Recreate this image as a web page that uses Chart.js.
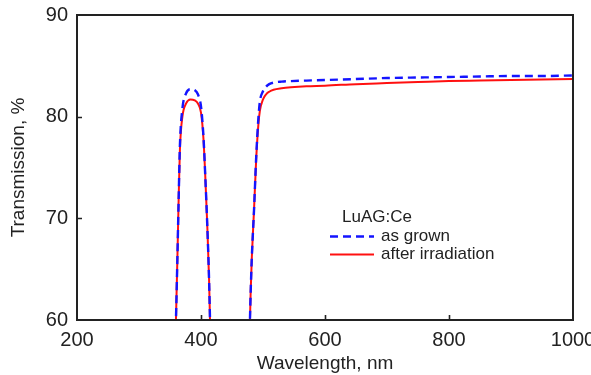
<!DOCTYPE html>
<html>
<head>
<meta charset="utf-8">
<script src="https://cdn.jsdelivr.net/npm/chart.js@4/dist/chart.umd.min.js"></script>
<style>
  html, body { margin: 0; padding: 0; background: #fff; }
  #wrap { width: 591px; height: 375px; position: relative; }
</style>
</head>
<body>
<div id="wrap"><canvas id="c" width="591" height="375"></canvas></div>
<script>
// Wavelength grid (nm); null values break the curve between the two windows
const wavelength = [357, 360, 362, 364, 366, 370, 376, 383, 390, 395, 400, 404, 407, 410, 413, 416,
  445,
  477, 480, 482, 485.5, 489, 492.5, 495, 500, 505, 510, 517, 530, 545, 570, 600, 650, 700, 750, 800, 850, 900, 950, 1000];

// Transmission, % — as grown crystal
const asGrown = [54, 61, 66.3, 72, 77.2, 80.8, 82.3, 82.7, 82.6, 82.2, 81.0, 78.0, 74.0, 69.5, 64.0, 56,
  null,
  55, 62.5, 66.2, 70.8, 76.0, 79.8, 81.5, 82.5, 82.95, 83.2, 83.35, 83.45, 83.5, 83.55, 83.6, 83.7, 83.8, 83.85, 83.9, 83.95, 84.0, 84.0, 84.05];

// Transmission, % — after irradiation
const afterIrradiation = [54, 61, 66.3, 72, 76.8, 80.0, 81.3, 81.7, 81.6, 81.3, 80.4, 77.8, 74.0, 69.5, 64.0, 56,
  null,
  55, 62.5, 66.2, 70.8, 75.8, 79.2, 80.6, 81.7, 82.2, 82.45, 82.65, 82.8, 82.9, 83.0, 83.05, 83.2, 83.3, 83.4, 83.5, 83.55, 83.6, 83.65, 83.7];

const xTicks = [200, 400, 600, 800, 1000];
const yTicks = [60, 70, 80, 90];

const sampleName = 'LuAG:Ce';
const seriesNames = ['as grown', 'after irradiation'];

const FONT = "'Liberation Sans', Arial, Helvetica, sans-serif";
const INK = '#222222';

const toPoints = vals => wavelength.map((w, i) => ({ x: w, y: vals[i] }));

// Box frame with short inward ticks
const framePlugin = {
  id: 'frame',
  afterDatasetsDraw(chart) {
    const { ctx, chartArea: a, scales } = chart;
    ctx.save();
    ctx.strokeStyle = INK;
    ctx.lineWidth = 1.6;
    ctx.beginPath();
    xTicks.forEach(v => {
      if (v === xTicks[0] || v === xTicks[xTicks.length - 1]) return;
      const px = Math.round(scales.x.getPixelForValue(v)) + 0.5;
      ctx.moveTo(px, a.bottom);
      ctx.lineTo(px, a.bottom - 5);
    });
    yTicks.forEach(v => {
      if (v === yTicks[0] || v === yTicks[yTicks.length - 1]) return;
      const py = Math.round(scales.y.getPixelForValue(v)) + 0.5;
      ctx.moveTo(a.left, py);
      ctx.lineTo(a.left + 5, py);
    });
    ctx.stroke();
    ctx.lineWidth = 2;
    ctx.strokeRect(a.left, a.top, a.right - a.left, a.bottom - a.top);
    ctx.restore();
  }
};

// In-plot legend: sample name plus one line sample per series
const keyPlugin = {
  id: 'key',
  afterDraw(chart, args, opts) {
    const { ctx } = chart;
    ctx.save();
    ctx.font = '17px ' + FONT;
    ctx.fillStyle = INK;
    ctx.textBaseline = 'alphabetic';
    ctx.fillText(sampleName, opts.x + 12, opts.y);
    chart.data.datasets.forEach((ds, i) => {
      const ly = opts.y + 14.5 + i * 18;
      ctx.beginPath();
      ctx.strokeStyle = ds.borderColor;
      ctx.lineWidth = ds.borderWidth;
      ctx.setLineDash(ds.borderDash || []);
      ctx.moveTo(opts.x, ly);
      ctx.lineTo(opts.x + 44, ly);
      ctx.stroke();
      ctx.setLineDash([]);
      ctx.fillText(ds.label, opts.x + 51, ly + 4.5);
    });
    ctx.restore();
  }
};

new Chart(document.getElementById('c'), {
  type: 'line',
  data: {
    datasets: [
      {
        label: seriesNames[0],
        data: toPoints(asGrown),
        borderColor: '#1414ff',
        borderWidth: 2.4,
        borderDash: [8, 5],
        pointRadius: 0,
        cubicInterpolationMode: 'monotone',
        spanGaps: false,
        order: 1
      },
      {
        label: seriesNames[1],
        data: toPoints(afterIrradiation),
        borderColor: '#ff1010',
        borderWidth: 2,
        pointRadius: 0,
        cubicInterpolationMode: 'monotone',
        spanGaps: false,
        order: 2
      }
    ]
  },
  options: {
    responsive: false,
    animation: false,
    events: [],
    layout: { padding: { top: 15, right: 18, left: 0, bottom: 0 } },
    plugins: {
      legend: { display: false },
      tooltip: { enabled: false },
      key: { x: 330, y: 222 }
    },
    scales: {
      x: {
        type: 'linear',
        min: 200,
        max: 1000,
        afterBuildTicks: s => { s.ticks = xTicks.map(v => ({ value: v })); },
        afterFit: s => { s.height = 55; s.paddingLeft = 0; s.paddingRight = 0; },
        grid: { display: false, drawTicks: false },
        border: { display: false },
        ticks: {
          color: INK, font: { family: FONT, size: 20 }, padding: 8, maxRotation: 0,
          callback: v => String(v)
        },
        title: {
          display: true,
          text: 'Wavelength, nm',
          color: INK,
          font: { family: FONT, size: 19 },
          padding: { top: 3, bottom: 0 }
        }
      },
      y: {
        min: 60,
        max: 90,
        afterBuildTicks: s => { s.ticks = yTicks.map(v => ({ value: v })); },
        afterFit: s => { s.width = 77; s.paddingTop = 0; s.paddingBottom = 0; },
        grid: { display: false, drawTicks: false },
        border: { display: false },
        ticks: { color: INK, font: { family: FONT, size: 20 }, padding: 9, callback: v => String(v) },
        title: {
          display: true,
          text: 'Transmission, %',
          color: INK,
          font: { family: FONT, size: 19 },
          padding: { top: 7, bottom: 0 }
        }
      }
    }
  },
  plugins: [framePlugin, keyPlugin]
});
</script>
</body>
</html>
